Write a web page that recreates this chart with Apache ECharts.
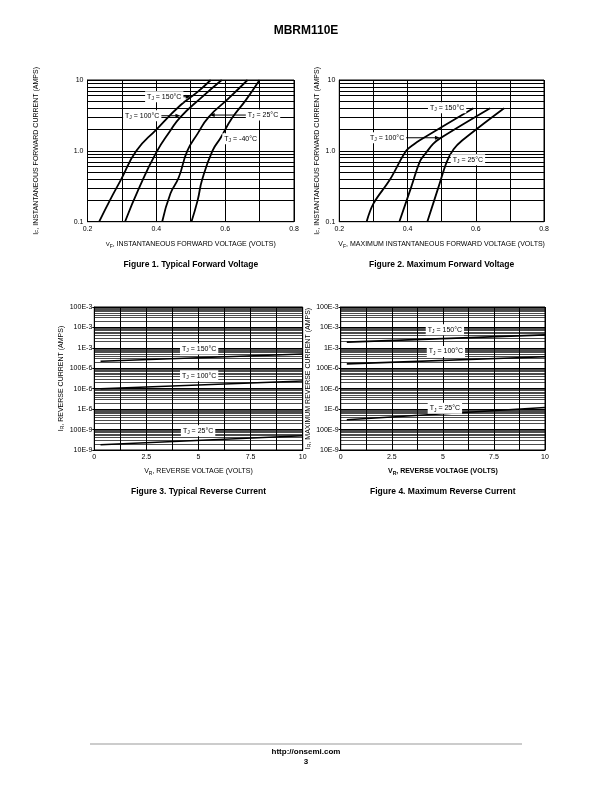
<!DOCTYPE html>
<html><head><meta charset="utf-8">
<script src="https://cdn.jsdelivr.net/npm/echarts@6/dist/echarts.min.js"></script>
<style>html,body{margin:0;padding:0;background:#fff}#c{width:612px;height:792px}</style>
</head><body><div id="c"></div>
<script>
// ---------- tick labels ----------
const fwdYTicks = ['0.1', '1.0', '10'];
const revYTicks = ['10E-9', '100E-9', '1E-6', '10E-6', '100E-6', '1E-3', '10E-3', '100E-3'];

// ---------- Figure 1: typical forward voltage [V, A] ----------
const typFwd150 = [[0.234,0.1],[0.265,0.2],[0.297,0.39],[0.342,1.0],[0.40,2.0],[0.47,4.4],[0.52,6.8],[0.558,10]];
const typFwd100 = [[0.309,0.1],[0.35,0.3],[0.40,0.95],[0.44,1.9],[0.47,3.0],[0.53,5.6],[0.59,10]];
const typFwd25  = [[0.417,0.1],[0.441,0.25],[0.465,0.42],[0.49,1.0],[0.52,1.75],[0.552,3.0],[0.61,5.5],[0.665,10]];
const typFwdM40 = [[0.502,0.1],[0.52,0.2],[0.533,0.39],[0.563,1.0],[0.587,1.53],[0.62,2.9],[0.66,5.2],[0.70,10]];

// ---------- Figure 2: maximum forward voltage [V, A] ----------
const maxFwd150 = [[0.280,0.1],[0.30,0.18],[0.348,0.39],[0.396,1.0],[0.42,1.25],[0.437,1.42],[0.593,4.0]];
const maxFwd100 = [[0.376,0.1],[0.41,0.3],[0.437,0.72],[0.455,0.95],[0.475,1.25],[0.495,1.5],[0.642,4.0]];
const maxFwd25  = [[0.458,0.1],[0.49,0.3],[0.515,0.7],[0.535,1.05],[0.56,1.4],[0.683,4.0]];

// ---------- Figure 3: typical reverse current [V, A] ----------
const typRev150 = [[0.3,2.2e-4],[10,5.0e-4]];
const typRev100 = [[0.3,1.0e-5],[10,2.4e-5]];
const typRev25  = [[0.3,1.8e-8],[10,5.0e-8]];

// ---------- Figure 4: maximum reverse current [V, A] ----------
const maxRev150 = [[0.3,1.9e-3],[10,4.3e-3]];
const maxRev100 = [[0.3,1.65e-4],[10,3.7e-4]];
const maxRev25  = [[0.3,3.0e-7],[10,1.2e-6]];

const FONT = '"Liberation Sans Narrow","Arial Narrow","Liberation Sans",Arial,sans-serif';
const BOLD = '"Liberation Sans",Arial,Helvetica,sans-serif';
const BLACK = '#000';

const chart = echarts.init(document.getElementById('c'), null, {renderer:'canvas', width:612, height:792});

const grids = [
  {left:87.5, top:80, width:206.5, height:141.7},
  {left:339.3, top:80, width:204.7, height:141.7},
  {left:94.3, top:307, width:208.4, height:143},
  {left:340.7, top:307, width:204.3, height:143}
].map(g => Object.assign(g, {show:true, borderColor:BLACK, borderWidth:1, backgroundColor:'transparent', containLabel:false}));

function richName(bold){
  const w = bold ? 'bold' : 'normal';
  return {
    fontFamily: FONT, fontSize: 7, color: BLACK, fontWeight: w,
    rich: {
      n: {fontFamily: FONT, fontSize: 7, color: BLACK, fontWeight: w, lineHeight: 9, verticalAlign:'middle'},
      v: {fontFamily: FONT, fontSize: 6, color: BLACK, fontWeight: w, lineHeight: 9, verticalAlign:'middle'},
      s: {fontFamily: FONT, fontSize: 5, color: BLACK, fontWeight: w, lineHeight: 9, verticalAlign:'bottom'}
    }
  };
}

function xAxis(i, min, max, interval, fmt, name, gap, bold){
  return {
    type:'value', gridIndex:i, min, max, interval,
    axisLine:{show:true, lineStyle:{color:BLACK, width:1}},
    axisTick:{show:false},
    minorTick:{show:false, splitNumber:2},
    splitLine:{show:true, lineStyle:{color:BLACK, width:1}},
    minorSplitLine:{show:true, lineStyle:{color:BLACK, width:1}},
    axisLabel:{fontSize:7, color:BLACK, fontFamily:FONT, margin:4, showMinLabel:true, showMaxLabel:true, formatter: fmt},
    name, nameLocation:'middle', nameGap:gap, nameTextStyle: richName(bold)
  };
}
function yAxis(i, min, max, labels, name, gap, tick){
  const base = Math.round(Math.log10(min));
  return {
    type:'log', logBase:10, gridIndex:i, min, max, splitNumber:10,
    axisLine:{show:true, lineStyle:{color:BLACK, width:1}},
    axisTick:{show:tick, length:2, lineStyle:{color:BLACK}},
    splitLine:{show:true, lineStyle:{color:BLACK, width:1}},
    axisLabel:{fontSize:7, color:BLACK, fontFamily:FONT, margin:tick?2:4, showMinLabel:true, showMaxLabel:true,
      formatter: v => labels[Math.round(Math.log10(v)) - base]},
    name, nameLocation:'middle', nameGap:gap, nameRotate:90, nameTextStyle: richName(false)
  };
}

// minor (2..9 per decade) horizontal grid lines, drawn as a 'lines' series in data coordinates
function gridSeries(i, x0, x1, d0, d1, w){
  const data = [];
  for (let d = d0; d < d1; d++) for (let k = 2; k <= 9; k++) {
    const v = k * Math.pow(10, d);
    data.push({coords:[[x0, v], [x1, v]]});
  }
  return {type:'lines', coordinateSystem:'cartesian2d', xAxisIndex:i, yAxisIndex:i, z:1, silent:true,
    animation:false, polyline:false, symbol:['none','none'],
    lineStyle:{color:BLACK, width:w, opacity:1, curveness:0}, data};
}
function curve(i, data, smooth, w){
  return {type:'line', xAxisIndex:i, yAxisIndex:i, data, z:3, symbol:'none', showSymbol:false,
    smooth: smooth, silent:true, lineStyle:{color:BLACK, width:w}};
}

const fmt1 = v => v.toFixed(1);
const fmt3 = v => String(v);

const option = {
  animation:false,
  textStyle:{fontFamily:FONT},
  grid: grids,
  xAxis: [
    xAxis(0, 0.2, 0.8, 0.2, fmt1, '{v|V}{s|F}{n|, INSTANTANEOUS FORWARD VOLTAGE (VOLTS)}', 18, false),
    xAxis(1, 0.2, 0.8, 0.2, fmt1, '{n|V}{s|F}{n|, MAXIMUM INSTANTANEOUS FORWARD VOLTAGE (VOLTS)}', 18, false),
    xAxis(2, 0, 10, 2.5, fmt3, '{n|V}{s|R}{n|, REVERSE VOLTAGE (VOLTS)}', 17, false),
    xAxis(3, 0, 10, 2.5, fmt3, '{n|V}{s|R}{n|, REVERSE VOLTAGE (VOLTS)}', 17, true)
  ],
  yAxis: [
    yAxis(0, 0.1, 10, fwdYTicks, '{n|I}{s|F}{n|, INSTANTANEOUS FORWARD CURRENT (AMPS)}', 47, false),
    yAxis(1, 0.1, 10, fwdYTicks, '{n|I}{s|F}{n|, INSTANTANEOUS FORWARD CURRENT (AMPS)}', 18, false),
    yAxis(2, 1e-8, 0.1, revYTicks, '{n|I}{s|R}{n|, REVERSE CURRENT (AMPS)}', 29, true),
    yAxis(3, 1e-8, 0.1, revYTicks, '{n|I}{s|R}{n|, MAXIMUM REVERSE CURRENT (AMPS)}', 28, true)
  ],
  series: [
    gridSeries(0, 0.2, 0.8, -1, 1, 1), gridSeries(1, 0.2, 0.8, -1, 1, 1),
    gridSeries(2, 0, 10, -8, -1, 0.7), gridSeries(3, 0, 10, -8, -1, 0.7),
    curve(0, typFwd150, 0.5, 1.8), curve(0, typFwd100, 0.5, 1.8), curve(0, typFwd25, 0.5, 1.8), curve(0, typFwdM40, 0.5, 1.8),
    curve(1, maxFwd150, 0.35, 1.8), curve(1, maxFwd100, 0.35, 1.8), curve(1, maxFwd25, 0.35, 1.8),
    curve(2, typRev150, false, 1.6), curve(2, typRev100, false, 1.6), curve(2, typRev25, false, 1.6),
    curve(3, maxRev150, false, 1.6), curve(3, maxRev100, false, 1.6), curve(3, maxRev25, false, 1.6)
  ]
};
chart.setOption(option);

// ---------- annotations (data coordinates) ----------
const annots = [
  {g:0, t:'150°C', at:[0.423,5.8], from:[0.474,5.8], to:[0.50,5.8]},
  {g:0, t:'100°C', at:[0.359,3.13], from:[0.406,3.13], to:[0.47,3.13]},
  {g:0, t:'25°C',  at:[0.71,3.2], from:[0.666,3.2], to:[0.555,3.2]},
  {g:0, t:'-40°C', at:[0.645,1.48]},
  {g:1, t:'150°C', at:[0.516,4.05]},
  {g:1, t:'100°C', at:[0.34,1.53], from:[0.39,1.53], to:[0.495,1.53]},
  {g:1, t:'25°C',  at:[0.577,0.75]},
  {g:2, t:'150°C', at:[5.03,8.9e-4]},
  {g:2, t:'100°C', at:[5.03,4.3e-5]},
  {g:2, t:'25°C',  at:[4.98,8.7e-8]},
  {g:3, t:'150°C', at:[5.1,7.6e-3]},
  {g:3, t:'100°C', at:[5.15,6.6e-4]},
  {g:3, t:'25°C',  at:[5.1,1.12e-6]}
];
const px = (g, p) => chart.convertToPixel({gridIndex:g}, p);

const T = (x, y, text, font) => ({type:'text', x, y, z:100, style:{text, font, fill:BLACK,
  align:'center', verticalAlign:'middle', textAlign:'center', textVerticalAlign:'middle'}});
const gfx = [
  T(306, 31, 'MBRM110E', 'bold 12px ' + BOLD),
  T(190.8, 265, 'Figure 1. Typical Forward Voltage', 'bold 8.5px ' + BOLD),
  T(441.6, 265, 'Figure 2. Maximum Forward Voltage', 'bold 8.5px ' + BOLD),
  T(198.5, 492, 'Figure 3. Typical Reverse Current', 'bold 8.5px ' + BOLD),
  T(442.8, 492, 'Figure 4. Maximum Reverse Current', 'bold 8.5px ' + BOLD),
  {type:'line', z:100, shape:{x1:90, y1:744, x2:522, y2:744}, style:{stroke:'#999', lineWidth:1}},
  T(306, 752, 'http://onsemi.com', 'bold 8px ' + BOLD),
  T(306, 762, '3', 'bold 8px ' + BOLD)
];

annots.forEach(a => {
  if (a.from) {
    const f = px(a.g, a.from), t = px(a.g, a.to);
    const dir = Math.sign(t[0] - f[0]);
    gfx.push({type:'line', z:101, shape:{x1:f[0], y1:f[1], x2:t[0] - dir*4, y2:t[1]}, style:{stroke:BLACK, lineWidth:1}});
    gfx.push({type:'polygon', z:101, shape:{points:[[t[0], t[1]], [t[0] - dir*5, t[1] - 2], [t[0] - dir*5, t[1] + 2]]}, style:{fill:BLACK}});
  }
  const c = px(a.g, a.at);
  gfx.push({type:'text', x:c[0], y:c[1], z:102, style:{
    text:'{t|T}{s|J}{t| = ' + a.t + '}',
    align:'center', verticalAlign:'middle', textAlign:'center', textVerticalAlign:'middle',
    backgroundColor:'#fff', padding:[1,2],
    rich:{
      t:{fontFamily:FONT, fontSize:7, fill:BLACK, color:BLACK, lineHeight:9, verticalAlign:'middle'},
      s:{fontFamily:FONT, fontSize:5, fill:BLACK, color:BLACK, lineHeight:9, verticalAlign:'bottom'}
    }
  }});
});
chart.setOption({graphic: gfx});
</script>
</body></html>
